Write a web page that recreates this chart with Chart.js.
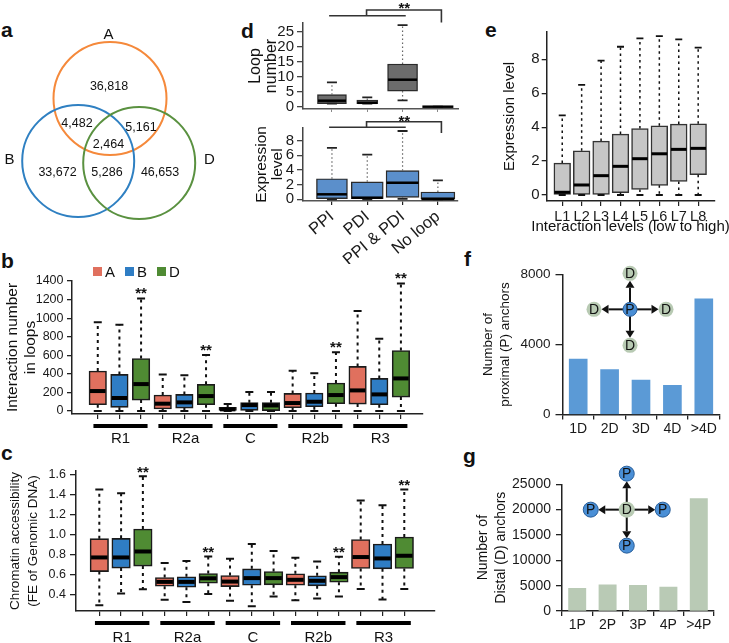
<!DOCTYPE html>
<html><head><meta charset="utf-8"><title>Figure</title>
<script src="https://cdn.jsdelivr.net/npm/chart.js@4.4.1/dist/chart.umd.min.js"></script>
<style>
html,body{margin:0;padding:0;background:#fff;}
#page{position:relative;width:729px;height:643px;overflow:hidden;font-family:"Liberation Sans",Arial,Helvetica,sans-serif;color:#111;}
#page canvas{position:absolute;}
.pl{position:absolute;font-weight:bold;font-size:21px;line-height:21px;}
.sw{position:absolute;width:9px;height:9px;}
.lt{position:absolute;font-size:15px;line-height:18px;}
</style></head>
<body>
<div id="page">
  <div class="pl" style="left:1px;top:19px">a</div>
  <div class="pl" style="left:1px;top:250px">b</div>
  <div class="pl" style="left:1px;top:442px">c</div>
  <div class="pl" style="left:241px;top:20px">d</div>
  <div class="pl" style="left:485px;top:19px">e</div>
  <div class="pl" style="left:464px;top:248px">f</div>
  <div class="pl" style="left:463px;top:445px">g</div>
</div>
<script>
// ================= DATA =================
// a: Venn diagram
const vennSets = ['A', 'B', 'D'];
const vennRegions = ['A', 'A∩B', 'A∩D', 'A∩B∩D', 'B', 'B∩D', 'D'];
const vennCounts = [36818, 4482, 5161, 2464, 33672, 5286, 46653];

// b, c: five-number summaries [lower whisker, Q1, median, Q3, upper whisker]
const cellTypes = ['A', 'B', 'D'];
const regionGroups = ['R1', 'R2a', 'C', 'R2b', 'R3'];
const loopsA = [[0,68,215,430,957],[0,22,79,172,394],[0,0,18,40,75],[0,36,86,190,433],[0,75,222,480,1078]];
const loopsB = [[0,40,140,394,928],[0,32,93,179,384],[0,0,64,90,204],[0,46,100,193,408],[0,68,179,351,777]];
const loopsD = [[0,118,290,566,1211],[0,68,161,287,602],[0,5,60,90,204],[0,79,172,301,634],[0,150,351,652,1373]];
const loopsSigGroups = [0, 1, 3, 4];
const loopsTicks = [0, 200, 400, 600, 800, 1000, 1200, 1400];

const accessA = [[0.29,0.628,0.77,0.959,1.453],[0.343,0.48,0.524,0.568,0.713],[0.335,0.477,0.527,0.588,0.757],[0.34,0.49,0.545,0.605,0.767],[0.453,0.659,0.774,0.951,1.342]];
const accessB = [[0.406,0.663,0.77,0.962,1.416],[0.322,0.47,0.524,0.575,0.733],[0.28,0.49,0.562,0.655,0.905],[0.356,0.484,0.535,0.585,0.73],[0.346,0.655,0.76,0.905,1.295]];
const accessD = [[0.45,0.683,0.83,1.056,1.588],[0.403,0.51,0.56,0.608,0.78],[0.376,0.494,0.562,0.628,0.834],[0.376,0.52,0.572,0.622,0.777],[0.453,0.659,0.787,0.976,1.453]];
const accessSigGroups = [0, 1, 3, 4];
const accessTicks = [0.4, 0.6, 0.8, 1.0, 1.2, 1.4, 1.6];

// d
const loopCats = ['PPI', 'PDI', 'PPI & PDI', 'No loop'];
const loopNumber = [[1,1,2,4,8.1],[1,1,1.3,2.2,3.1],[2.1,5.2,9,14.2,27.2],[0,0,0,0,0]];
const loopNumberTicks = [0, 5, 10, 15, 20, 25];
const loopExpr = [[0,0,0.68,2.8,7.0],[0,0,0.22,2.38,6.08],[0.05,0.27,2.24,3.9,9.3],[0,0,0.05,0.99,2.57]];
const loopExprTicks = [0, 2, 4, 6, 8];

// e
const levelCats = ['L1','L2','L3','L4','L5','L6','L7','L8'];
const levelExpr = [[0,0,0.16,1.88,4.7],[0,0,0.59,2.61,6.49],[0,0,1.14,3.18,7.92],[0,0.14,1.69,3.59,8.74],[0,0.33,2.14,3.92,9.24],[0,0.57,2.43,4.08,9.37],[0,0.8,2.69,4.18,9.18],[0,1.2,2.75,4.2,8.69]];
const levelTicks = [0, 2, 4, 6, 8];

// f, g
const pCats = ['1D', '2D', '3D', '4D', '>4D'];
const pAnchors = [3160, 2570, 1960, 1670, 6600];
const pTicks = [0, 4000, 8000];
const dCats = ['1P', '2P', '3P', '4P', '>4P'];
const dAnchors = [4450, 5150, 5050, 4700, 22200];
const dTicks = [0, 5000, 10000, 15000, 20000, 25000];

// ================= STYLE / LAYOUT =================
const FONT = '"Liberation Sans", Arial, Helvetica, sans-serif';
const cellColors = ['#e0705e', '#2f7dc4', '#4f8b33'];
const vennColors = ['#f5893b', '#2f80c2', '#5a9140'];
const LAYOUT = {
  a: {rect:{x:0,y:0,w:240,h:232}, area:{L:0,T:0,R:240,B:232}},
  b: {rect:{x:0,y:262,w:430,h:188}, area:{L:72,T:281,R:423,B:414}},
  c: {rect:{x:0,y:462,w:440,h:181}, area:{L:76,T:471,R:435,B:611}},
  d1:{rect:{x:240,y:0,w:222,h:112}, area:{L:303,T:23,R:458,B:109}},
  d2:{rect:{x:240,y:112,w:222,h:152}, area:{L:303,T:127.7,R:458,B:201}},
  e: {rect:{x:490,y:20,w:239,h:222}, area:{L:546.7,T:32,R:714.3,B:201}},
  f: {rect:{x:475,y:262,w:254,h:178}, area:{L:562.5,T:274.3,R:719.5,B:414.5}},
  g: {rect:{x:470,y:458,w:259,h:185}, area:{L:562,T:484.3,R:714,B:611}}
};

Chart.defaults.font.family = FONT;
Chart.defaults.color = '#111';
Chart.defaults.animation = false;
Chart.defaults.events = [];
Chart.defaults.plugins.legend.display = false;
Chart.defaults.plugins.tooltip.enabled = false;

const page = document.getElementById('page');

function place(key, cfg) {
  const {rect, area} = LAYOUT[key];
  const c = document.createElement('canvas');
  c.width = rect.w; c.height = rect.h;
  c.style.left = rect.x + 'px'; c.style.top = rect.y + 'px';
  c.style.width = rect.w + 'px'; c.style.height = rect.h + 'px';
  page.appendChild(c);
  const o = cfg.options = cfg.options || {};
  o.responsive = false; o.maintainAspectRatio = false; o.devicePixelRatio = 1;
  o.layout = {autoPadding: false, padding: {left: 0, bottom: 0, top: area.T - rect.y, right: rect.x + rect.w - area.R}};
  const sc = o.scales || {};
  const zero = s => { s.paddingTop = 0; s.paddingBottom = 0; s.paddingLeft = 0; s.paddingRight = 0; };
  if (sc.y) sc.y.afterFit = s => { s.width = area.L - rect.x; zero(s); };
  if (sc.x) sc.x.afterFit = s => { s.height = rect.y + rect.h - area.B; zero(s); };
  return new Chart(c, cfg);
}

function setTicks(vals) { return s => { s.ticks = vals.map(v => ({value: v})); }; }

function yAxis(min, max, vals, fmt, font, tickLen, pad, title, axisColor) {
  return {
    type: 'linear', min, max, beginAtZero: false,
    afterBuildTicks: setTicks(vals),
    ticks: {font: {size: font}, color: '#1a1a1a', padding: pad, autoSkip: false, callback: v => fmt(v)},
    grid: {drawOnChartArea: false, drawTicks: true, tickLength: tickLen, color: axisColor || '#222', lineWidth: 1.3},
    border: {display: true, color: axisColor || '#222', width: 1.5},
    title: title
  };
}
function xBoxAxis(min, max, n, labels, font, tickLen, extra, rot) {
  const pos = Array.from({length: n}, (_, i) => i);
  return Object.assign({
    type: 'linear', min, max, offset: false,
    afterBuildTicks: setTicks(pos),
    ticks: {font: {size: font}, color: '#1a1a1a', padding: 2, autoSkip: false, maxRotation: rot || 0, minRotation: rot || 0,
            callback: v => (labels ? labels[v] : '')},
    grid: {offset: false, drawOnChartArea: false, drawTicks: true, tickLength: tickLen, color: '#222', lineWidth: 1.2},
    border: {display: true, color: '#222', width: 1.5}
  }, extra || {});
}

// ---------- plugins ----------
function boxPlugin(s) {
  return {id: 'boxw', afterDatasetsDraw(chart) {
    const ctx = chart.ctx, ys = chart.scales.y;
    ctx.save();
    chart.data.datasets.forEach((ds, di) => {
      if (!ds.stats) return;
      const meta = chart.getDatasetMeta(di);
      ds.stats.forEach((st, i) => {
        const el = meta.data[i]; if (!el) return;
        const cx = el.x, hw = el.width / 2;
        const [lo, q1, md, q3, hi] = st.map(v => ys.getPixelForValue(v));
        ctx.setLineDash(s.dash); ctx.lineWidth = s.wWidth; ctx.strokeStyle = s.wColor; ctx.lineCap = 'butt';
        ctx.beginPath(); ctx.moveTo(cx, q3); ctx.lineTo(cx, hi); ctx.moveTo(cx, q1); ctx.lineTo(cx, lo); ctx.stroke();
        ctx.setLineDash([]); ctx.lineWidth = s.capWidth; ctx.strokeStyle = s.capColor;
        ctx.beginPath(); ctx.moveTo(cx - s.cap / 2, hi); ctx.lineTo(cx + s.cap / 2, hi);
        ctx.moveTo(cx - s.cap / 2, lo); ctx.lineTo(cx + s.cap / 2, lo); ctx.stroke();
        ctx.lineWidth = s.medWidth; ctx.strokeStyle = '#000';
        ctx.beginPath(); ctx.moveTo(cx - hw + s.medInset, md); ctx.lineTo(cx + hw - s.medInset, md); ctx.stroke();
      });
    });
    ctx.restore();
  }};
}
function starPlugin(items, off) {
  return {id: 'stars', afterDatasetsDraw(chart) {
    const ctx = chart.ctx, x = chart.scales.x, y = chart.scales.y;
    ctx.save(); ctx.fillStyle = '#111'; ctx.font = 'bold 15px ' + FONT; ctx.textAlign = 'center'; ctx.textBaseline = 'alphabetic';
    items.forEach(it => ctx.fillText('**', x.getPixelForValue(it.x), y.getPixelForValue(it.v) - off + 8.5));
    ctx.restore();
  }};
}
function groupPlugin(names, size, from, to, lineOff, textOff) {
  return {id: 'groups', afterDraw(chart) {
    const ctx = chart.ctx, x = chart.scales.x, b = chart.chartArea.bottom;
    ctx.save(); ctx.strokeStyle = '#000'; ctx.lineWidth = 4; ctx.fillStyle = '#111';
    ctx.font = '15px ' + FONT; ctx.textAlign = 'center'; ctx.textBaseline = 'middle';
    names.forEach((n, g) => {
      const x0 = x.getPixelForValue(g * size + from), x1 = x.getPixelForValue(g * size + size - 1 + to);
      ctx.beginPath(); ctx.moveTo(x0, b + lineOff); ctx.lineTo(x1, b + lineOff); ctx.stroke();
      ctx.fillText(n, (x0 + x1) / 2, b + textOff);
    });
    ctx.restore();
  }};
}
function bottomTitlePlugin(text, size, off) {
  return {id: 'btitle', afterDraw(chart) {
    const ctx = chart.ctx, a = chart.chartArea;
    ctx.save(); ctx.fillStyle = '#111'; ctx.font = size + 'px ' + FONT; ctx.textAlign = 'center'; ctx.textBaseline = 'middle';
    ctx.fillText(text, (a.left + a.right) / 2, a.bottom + off);
    ctx.restore();
  }};
}
function bracketPlugin(s) {
  return {id: 'bracket', afterDraw(chart) {
    const ctx = chart.ctx, x = chart.scales.x, t = chart.chartArea.top;
    const px = v => x.getPixelForValue(v);
    ctx.save(); ctx.strokeStyle = '#333'; ctx.lineWidth = 1.6;
    ctx.beginPath();
    ctx.moveTo(px(s.x0), t + s.yLow); ctx.lineTo(px(s.x1), t + s.yLow);
    ctx.moveTo(px(s.xm), t + s.yLow); ctx.lineTo(px(s.xm), t + s.yHigh); ctx.lineTo(px(s.xr), t + s.yHigh);
    ctx.lineTo(px(s.xr), t + s.yDrop);
    ctx.stroke();
    ctx.fillStyle = '#111'; ctx.font = 'bold 15px ' + FONT; ctx.textAlign = 'center'; ctx.textBaseline = 'alphabetic';
    ctx.fillText('**', px(s.xs), t + s.yStar + 8.5);
    ctx.restore();
  }};
}
function hubPlugin(s) {
  return {id: 'hub', afterDatasetsDraw(chart) {
    const ctx = chart.ctx, x = chart.scales.x, y = chart.scales.y;
    const cx = x.getPixelForValue(s.at[0]), cy = y.getPixelForValue(s.at[1]);
    const dirs = [[0,-1],[-1,0],[1,0],[0,1]];
    ctx.save(); ctx.strokeStyle = '#111'; ctx.fillStyle = '#111'; ctx.lineWidth = 2;
    dirs.forEach(([dx, dy]) => {
      const tx = cx + dx * (s.arm - s.ro), ty = cy + dy * (s.arm - s.ro);
      const hl = 7, hw = 4.5, px = -dy, py = dx;
      ctx.beginPath(); ctx.moveTo(cx, cy); ctx.lineTo(tx - dx * hl, ty - dy * hl); ctx.stroke();
      ctx.beginPath(); ctx.moveTo(tx, ty);
      ctx.lineTo(tx - dx * hl + px * hw, ty - dy * hl + py * hw);
      ctx.lineTo(tx - dx * hl - px * hw, ty - dy * hl - py * hw); ctx.closePath(); ctx.fill();
    });
    const circ = (X, Y, r, fill, stroke, txt) => {
      ctx.beginPath(); ctx.arc(X, Y, r, 0, Math.PI * 2); ctx.fillStyle = fill; ctx.fill();
      if (stroke) { ctx.lineWidth = 1; ctx.strokeStyle = stroke; ctx.stroke(); }
      ctx.fillStyle = '#111'; ctx.font = '14px ' + FONT; ctx.textAlign = 'center'; ctx.textBaseline = 'middle';
      ctx.fillText(txt, X, Y + 1);
    };
    circ(cx, cy, s.rc, s.cFill, s.cStroke, s.cText);
    dirs.forEach(([dx, dy]) => circ(cx + dx * s.arm, cy + dy * s.arm, s.ro, s.oFill, s.oStroke, s.oText));
    ctx.restore();
  }};
}
function vennTextPlugin(items) {
  return {id: 'vennText', afterDatasetsDraw(chart) {
    const ctx = chart.ctx, x = chart.scales.x, y = chart.scales.y;
    ctx.save(); ctx.fillStyle = '#111'; ctx.textAlign = 'center'; ctx.textBaseline = 'middle';
    items.forEach(it => { ctx.font = it.size + 'px ' + FONT; ctx.fillText(it.text, x.getPixelForValue(it.x), y.getPixelForValue(it.y)); });
    ctx.restore();
  }};
}

// ================= a: Venn =================
const vennCircles = [{x:110, y:98.5, r:56.5}, {x:78.2, y:161, r:56}, {x:139.2, y:163, r:56}];
const vennSetLabelPos = [[108.5, 35], [9.5, 160], [209.5, 160]];
const vennRegionPos = [[109, 87], [77, 124], [141, 127.5], [108.5, 145], [57.5, 173], [107, 173], [160, 173]];
const vennItems = vennSets.map((t, i) => ({text: t, x: vennSetLabelPos[i][0], y: vennSetLabelPos[i][1], size: 15}))
  .concat(vennCounts.map((v, i) => ({text: v.toLocaleString('en-US'), x: vennRegionPos[i][0], y: vennRegionPos[i][1], size: 12.5})));
place('a', {
  type: 'bubble',
  data: {datasets: [{label: 'sets', data: vennCircles, backgroundColor: 'rgba(0,0,0,0)', borderColor: vennColors, borderWidth: 2, clip: false}]},
  options: {scales: {x: {type: 'linear', min: 0, max: 240, display: false}, y: {type: 'linear', min: 0, max: 232, reverse: true, display: false}}},
  plugins: [vennTextPlugin(vennItems)]
});

// ================= b & c: grouped box plots =================
function groupedBoxSets(seriesStats, width) {
  return seriesStats.map((stats, s) => ({
    label: cellTypes[s],
    data: stats.map((st, g) => ({x: g * 3 + s, y: [st[1], st[3]]})),
    stats,
    backgroundColor: cellColors[s], borderColor: '#1b1b1b', borderWidth: 1.6, borderSkipped: false,
    barThickness: width, grouped: false
  }));
}
const int = v => String(v);
place('b', {
  type: 'bar',
  data: {datasets: groupedBoxSets([loopsA, loopsB, loopsD], 17.5)},
  options: {scales: {
    x: xBoxAxis(-1.19, 15.02, 15, null, 12, 5),
    y: yAxis(-32, 1400, loopsTicks, int, 12.5, 5, 3.5,
      {display: true, text: ['Interaction number', 'in loops'], font: {size: 15.5, lineHeight: 1.2}, color: '#111', padding: {top: 3, bottom: 0}})
  }},
  plugins: [boxPlugin({dash: [3, 4], wWidth: 2, wColor: '#111', cap: 8, capWidth: 2, capColor: '#111', medWidth: 4, medInset: 1}),
            starPlugin(loopsSigGroups.map(g => ({x: g * 3 + 2, v: loopsD[g][4]})), 9),
            groupPlugin(regionGroups, 3, -0.2, 0.3, 12, 25)]
});
place('c', {
  type: 'bar',
  data: {datasets: groupedBoxSets([accessA, accessB, accessD], 18.5)},
  options: {scales: {
    x: xBoxAxis(-1.07, 15.41, 15, null, 12, 5),
    y: yAxis(0.231, 1.64, accessTicks, v => v.toFixed(1), 12.5, 6, 4,
      {display: true, text: ['Chromatin accessibility', '(FE of Genomic DNA)'], font: {size: 13.5, lineHeight: 1.33}, color: '#111', padding: {top: 6, bottom: 0}})
  }},
  plugins: [boxPlugin({dash: [3, 4], wWidth: 2, wColor: '#111', cap: 8, capWidth: 2, capColor: '#111', medWidth: 4, medInset: 1}),
            starPlugin(accessSigGroups.map(g => ({x: g * 3 + 2, v: accessD[g][4]})), 8),
            groupPlugin(regionGroups, 3, -0.2, 0.3, 12, 27)]
});

// ================= d =================
function singleBoxSets(stats, widths, color, border) {
  return stats.map((st, i) => ({
    label: loopCats[i] || String(i),
    data: [{x: i, y: [st[1], st[3]]}], stats: [st],
    backgroundColor: color, borderColor: border, borderWidth: 1.4, borderSkipped: false,
    barThickness: widths[i], grouped: false
  }));
}
const bracketCfg = {x0: -0.08, x1: 2.09, xm: 0.98, xr: 3.1, xs: 2.05};
place('d1', {
  type: 'bar',
  data: {datasets: singleBoxSets(loopNumber, [29, 21, 30, 32], '#6c6c6c', '#2b2b2b')},
  options: {scales: {
    x: xBoxAxis(-0.82, 3.57, 4, null, 12, 4, {border: {display: true, color: '#555', width: 1.5}, grid: {offset: false, drawOnChartArea: false, drawTicks: true, tickLength: 4, color: '#888', lineWidth: 1}}),
    y: yAxis(-0.77, 27.9, loopNumberTicks, int, 15, 6, 3,
      {display: true, text: ['Loop', 'number'], font: {size: 16, lineHeight: 0.95}, color: '#111', padding: {top: 8.4, bottom: 0}}, '#444')
  }},
  plugins: [boxPlugin({dash: [1.5, 2.5], wWidth: 1.2, wColor: '#666', cap: 10, capWidth: 1.8, capColor: '#222', medWidth: 2.5, medInset: 0.5}),
            bracketPlugin(Object.assign({yLow: -7.3, yHigh: -13, yDrop: -0.5, yStar: -19}, bracketCfg))]
});
place('d2', {
  type: 'bar',
  data: {datasets: singleBoxSets(loopExpr, [31, 32, 33, 34], '#5b8fcb', '#2b2b2b')},
  options: {scales: {
    x: xBoxAxis(-0.82, 3.57, 4, loopCats, 16.5, 4, {border: {display: true, color: '#555', width: 1.5}}, 40),
    y: yAxis(-0.23, 9.75, loopExprTicks, int, 15, 6, 3,
      {display: true, text: ['Expression', 'level'], font: {size: 15.5, lineHeight: 1.03}, color: '#111', padding: {top: 14, bottom: 0}}, '#444')
  }},
  plugins: [boxPlugin({dash: [1.5, 2.5], wWidth: 1.2, wColor: '#666', cap: 10, capWidth: 1.8, capColor: '#222', medWidth: 2.5, medInset: 0.5}),
            bracketPlugin(Object.assign({yLow: -0.4, yHigh: -6, yDrop: 5.3, yStar: -10.7}, bracketCfg))]
});

// ================= e =================
place('e', {
  type: 'bar',
  data: {datasets: [{label: 'Expression level', data: levelExpr.map((st, i) => ({x: i, y: [st[1], st[3]]})), stats: levelExpr,
    backgroundColor: '#c6c6c6', borderColor: '#333', borderWidth: 1.5, borderSkipped: false, barThickness: 16.7, grouped: false}]},
  options: {scales: {
    x: xBoxAxis(-0.8, 7.83, 8, levelCats, 14.5, 5),
    y: yAxis(-0.354, 9.61, levelTicks, int, 15, 5, 2,
      {display: true, text: 'Expression level', font: {size: 15, lineHeight: 1.2}, color: '#111', padding: {top: 11, bottom: 0}})
  }},
  plugins: [boxPlugin({dash: [2.5, 3.5], wWidth: 1.5, wColor: '#111', cap: 7, capWidth: 1.8, capColor: '#111', medWidth: 3, medInset: 0.5}),
            bottomTitlePlugin('Interaction levels (low to high)', 15, 26)]
});

// ================= f & g =================
function barAxisX(labels) {
  return {type: 'category', labels, offset: true,
    ticks: {font: {size: 14}, color: '#1a1a1a', padding: 1, autoSkip: false, maxRotation: 0},
    grid: {offset: true, drawOnChartArea: false, drawTicks: true, tickLength: 5, color: '#222', lineWidth: 1.3},
    border: {display: true, color: '#222', width: 1.5}};
}
place('f', {
  type: 'bar',
  data: {labels: pCats, datasets: [{label: 'Number of proximal (P) anchors', data: pAnchors, backgroundColor: '#5b9ad6', barThickness: 18}]},
  options: {scales: {
    x: barAxisX(pCats),
    y: yAxis(0, 8000, pTicks, int, 13.5, 7, 5,
      {display: true, text: ['Number of', 'proximal (P) anchors'], font: {size: 13.5, lineHeight: 1.26}, color: '#111', padding: {top: 4.5, bottom: 0}})
  }},
  plugins: [hubPlugin({at: [1.65, 6000], arm: 36, rc: 7, ro: 7.5, cFill: '#4a8fd6', cStroke: '#2a5f9a', cText: 'P', oFill: '#b8cab3', oStroke: null, oText: 'D'})]
});
place('g', {
  type: 'bar',
  data: {labels: dCats, datasets: [{label: 'Number of Distal (D) anchors', data: dAnchors, backgroundColor: '#b9cab5', barThickness: 17.3}]},
  options: {scales: {
    x: barAxisX(dCats),
    y: yAxis(0, 25000, dTicks, int, 14, 6, 5,
      {display: true, text: ['Number of', 'Distal (D) anchors'], font: {size: 14, lineHeight: 1.26}, color: '#111', padding: {top: 4.2, bottom: 0}})
  }},
  plugins: [hubPlugin({at: [1.63, 20000], arm: 36, rc: 8, ro: 7.5, cFill: '#b8cab3', cStroke: null, cText: 'D', oFill: '#4a8fd6', oStroke: '#2a5f9a', oText: 'P'})]
});

// ================= legend for b =================
const legX = [93, 125, 157];
cellTypes.forEach((t, i) => {
  const sw = document.createElement('div'); sw.className = 'sw';
  sw.style.left = legX[i] + 'px'; sw.style.top = '267px'; sw.style.background = cellColors[i];
  page.appendChild(sw);
  const lt = document.createElement('div'); lt.className = 'lt'; lt.textContent = t;
  lt.style.left = (legX[i] + 12) + 'px'; lt.style.top = '262.5px';
  page.appendChild(lt);
});
</script>
</body></html>
